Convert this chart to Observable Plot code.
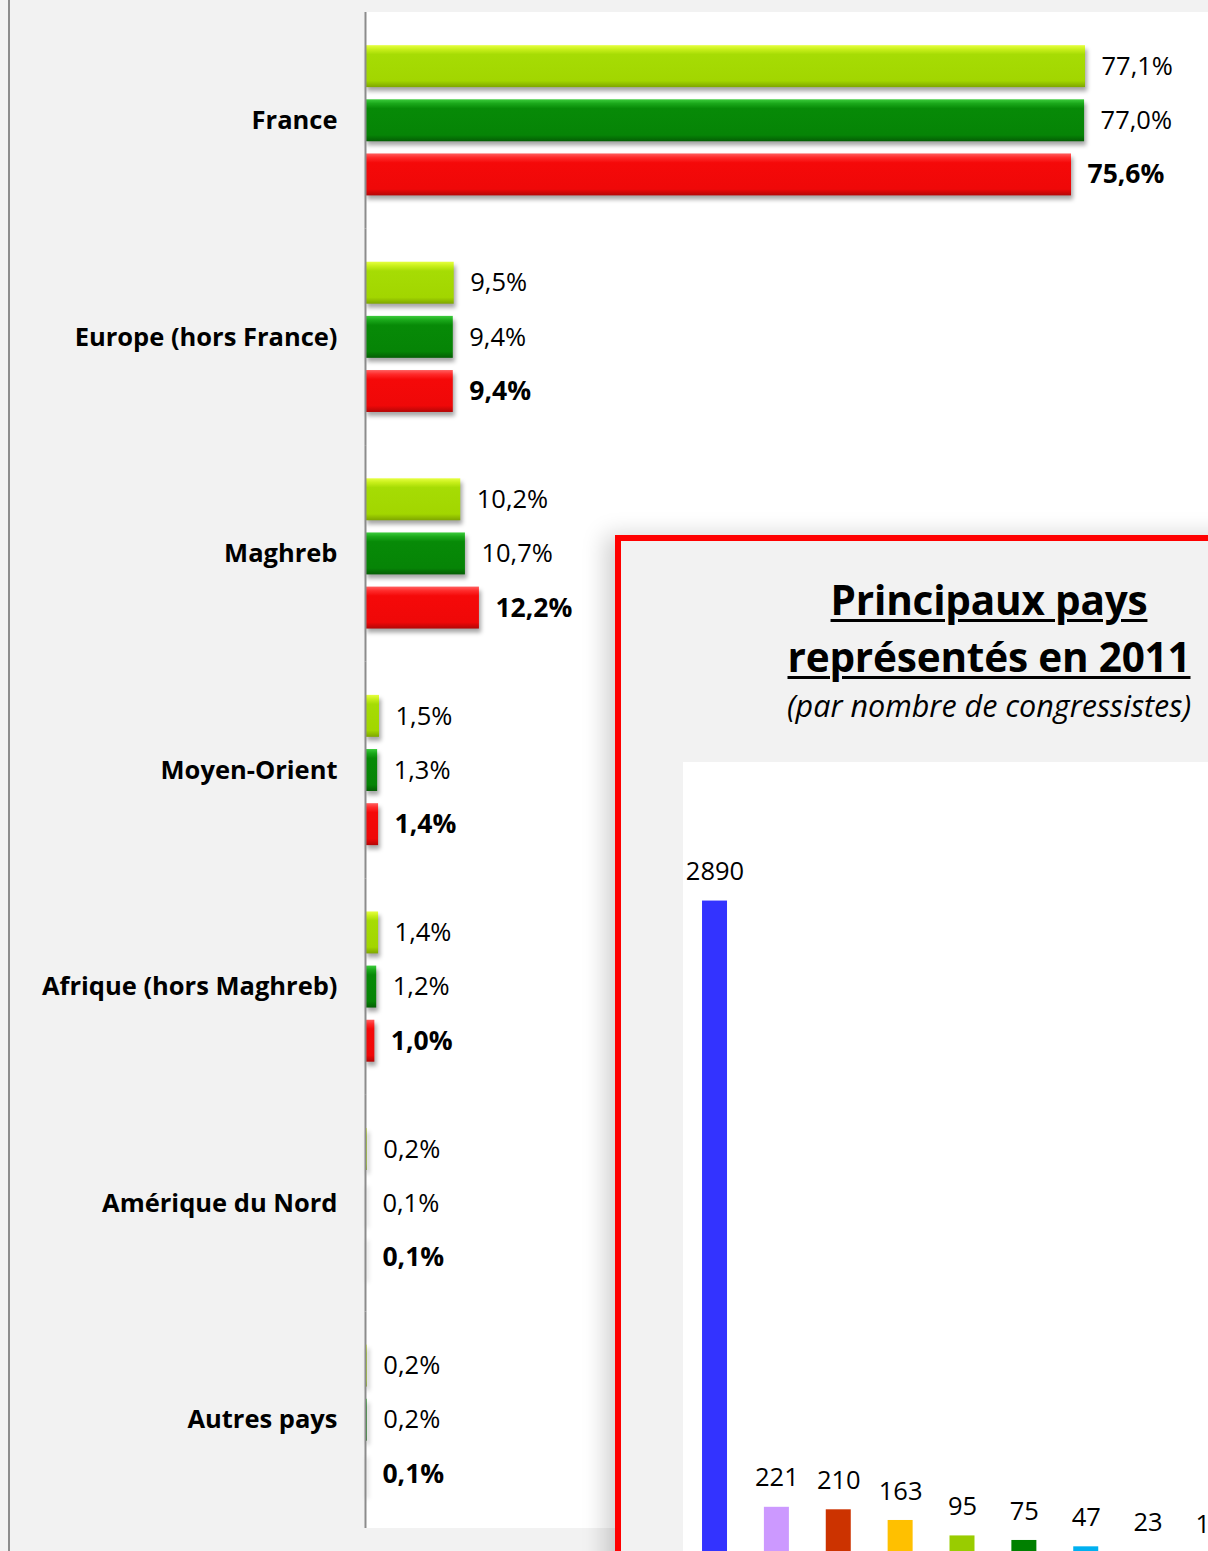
<!DOCTYPE html>
<html>
<head>
<meta charset="utf-8">
<script src="https://cdn.jsdelivr.net/npm/d3@7"></script>
<script src="https://cdn.jsdelivr.net/npm/@observablehq/plot@0.6"></script>
<style>
  html, body { margin: 0; padding: 0; overflow: hidden; background: #f2f2f2; }
  #page { position: relative; width: 1208px; height: 1551px; overflow: hidden; background: #f2f2f2; font-family: "Open Sans", sans-serif; }
  #leftline { position: absolute; left: 8px; top: 0; width: 2px; height: 1551px; background: #8c8c8c; }
  #plotbg { position: absolute; left: 365px; top: 12px; width: 843px; height: 1516px; background: #ffffff; }
  #main { position: absolute; left: 0; top: 0; }
  #main g[aria-label="bar"] rect { filter: drop-shadow(2px 4px 2px rgba(0,0,0,0.35)); }
  #inset { position: absolute; left: 615px; top: 535px; width: 736px; height: 1200px; background: #f2f2f2;
           border: 6px solid #ff0000; box-shadow: -10px 0 22px rgba(0,0,0,0.18); }
  #ititle { position: absolute; left: 0; width: 736px; top: 30px; text-align: center; font-weight: bold; font-size: 40.5px; line-height: 57px;
            text-decoration: underline; text-decoration-thickness: 3px; text-underline-offset: 4px; color: #000; letter-spacing: -0.2px; }
  #isub { position: absolute; left: 0; width: 736px; top: 140px; text-align: center; font-style: italic; font-size: 30.5px; line-height: 48px; color: #000; }
  #ichart { position: absolute; left: 62px; top: 221px; }
</style>
</head>
<body>
<div id="page">
  <div id="leftline"></div>
  <div id="plotbg"></div>
  <div id="main"></div>
  <div id="inset">
    <div id="ititle">Principaux pays<br>représentés en 2011</div>
    <div id="isub">(par nombre de congressistes)</div>
    <div id="ichart"></div>
  </div>
</div>
<script>
// ---- Main chart data ----
const regions = ["France", "Europe (hors France)", "Maghreb", "Moyen-Orient", "Afrique (hors Maghreb)", "Amérique du Nord", "Autres pays"];
const series = ["2009", "2010", "2011"];
const values2009 = [77.1, 9.5, 10.2, 1.5, 1.4, 0.2, 0.2];
const values2010 = [77.0, 9.4, 10.7, 1.3, 1.2, 0.1, 0.2];
const values2011 = [75.6, 9.4, 12.2, 1.4, 1.0, 0.1, 0.1];
const seriesColors = ["url(#gLight)", "url(#gGreen)", "url(#gRed)"];

// ---- Inset data ----
const countries = ["Pays 1", "Pays 2", "Pays 3", "Pays 4", "Pays 5", "Pays 6", "Pays 7", "Pays 8", "Pays 9"];
const counts = [2890, 221, 210, 163, 95, 75, 47, 23, 16];
const countryColors = ["#3333ff", "#cc99ff", "#cc3300", "#ffc000", "#99cc00", "#008000", "#00b0f0", "#ff66cc", "#7f7f7f"];

const seriesValues = [values2009, values2010, values2011];
const data = [];
regions.forEach((r, i) => series.forEach((s, j) => data.push({region: r, series: s, value: seriesValues[j][i]})));
const fmt = d => d.value.toFixed(1).replace(".", ",") + "%";
const current = series[series.length - 1];

const main = Plot.plot({
  width: 1208, height: 1551,
  marginLeft: 365, marginRight: 0, marginTop: 12, marginBottom: 23,
  x: {domain: [0, 90.27], axis: null},
  fy: {domain: regions, padding: 0, axis: null, label: null, round: false},
  y: {domain: series, paddingInner: 0.225, paddingOuter: 0.6125, axis: null, round: false},
  color: {domain: series, range: seriesColors},
  style: {background: "transparent", fontFamily: "Open Sans", overflow: "visible"},
  marks: [
    Plot.barX(data, {x: "value", y: "series", fy: "region", fill: "series"}),
    Plot.text(data.filter(d => d.series !== current), {x: "value", y: "series", fy: "region", text: fmt, dx: 16, textAnchor: "start",
      fontSize: 25.5, fill: "#000"}),
    Plot.text(data.filter(d => d.series === current), {x: "value", y: "series", fy: "region", text: fmt, dx: 16, textAnchor: "start",
      fontSize: 26.5, fill: "#000", fontWeight: "bold"}),
    Plot.ruleX([0], {stroke: "#8c8c8c", strokeWidth: 2}),
    Plot.axisFy({anchor: "left", tickSize: 0, tickPadding: 28, fontSize: 25.5, fontWeight: "bold", label: null, color: "#000"})
  ]
});

const defs = d3.select(main).insert("defs", ":first-child");
function grad(id, stops) {
  const g = defs.append("linearGradient").attr("id", id).attr("x1", 0).attr("y1", 0).attr("x2", 0).attr("y2", 1);
  stops.forEach(([o, c]) => g.append("stop").attr("offset", o).attr("stop-color", c));
}
grad("gLight", [[0, "#e6ff40"], [0.1, "#c8ef1a"], [0.22, "#a6dc04"], [0.85, "#a2d600"], [1, "#7ea600"]]);
grad("gGreen", [[0, "#3ccc3c"], [0.1, "#1aa81a"], [0.22, "#078a07"], [0.85, "#068406"], [1, "#045e04"]]);
grad("gRed", [[0, "#ff6060"], [0.1, "#ff2a2a"], [0.22, "#f50909"], [0.85, "#ef0808"], [1, "#b40606"]]);
document.getElementById("main").append(main);

// ---- Inset chart ----
const inset = countries.map((c, i) => ({country: c, count: counts[i]}));
const ichart = Plot.plot({
  width: 558, height: 800,
  marginLeft: 0, marginRight: 0, marginTop: 0, marginBottom: 5,
  x: {domain: countries, paddingInner: 0.596, paddingOuter: 0.3075, axis: null, round: false},
  y: {domain: [0, 3500], axis: null},
  color: {domain: countries, range: countryColors},
  style: {background: "white", fontFamily: "Open Sans", overflow: "visible"},
  marks: [
    Plot.barY(inset, {x: "country", y: "count", fill: "country"}),
    Plot.text(inset, {x: "country", y: "count", text: d => String(d.count), dy: -29, fontSize: 25.5, fill: "#000"})
  ]
});
document.getElementById("ichart").append(ichart);
</script>
</body>
</html>
